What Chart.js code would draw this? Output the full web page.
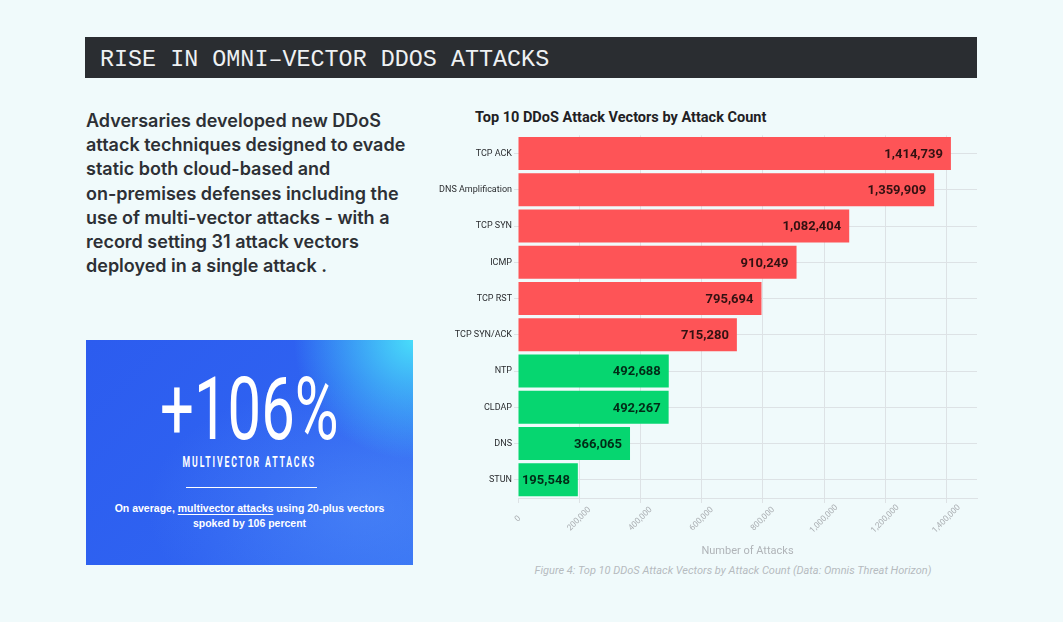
<!DOCTYPE html>
<html>
<head>
<meta charset="utf-8">
<script src="https://cdn.jsdelivr.net/npm/chart.js@4"></script>
<style>
  body { margin: 0; width: 1063px; height: 622px; background: #f0fafb; position: relative; overflow: hidden; font-family: Roboto, sans-serif; }
  .header { position: absolute; left: 85px; top: 37px; width: 892px; height: 41px; background: #2a2d31; }
  .header span { position: absolute; left: 15px; top: 10px; font-family: 'Liberation Mono', monospace; font-size: 23.4px; color: #eef1f3; white-space: nowrap; }
  .intro { position: absolute; left: 86px; top: 109px; font-family: Inter, sans-serif; font-weight: 600; font-size: 18px; line-height: 24.2px; color: #2d3035; white-space: nowrap; }
  .statbox { position: absolute; left: 86px; top: 340px; width: 327px; height: 225px; color: #fff;
    background:
      radial-gradient(circle at 100% 0%, #48dcfa 0%, rgba(72,220,250,0) 30%),
      radial-gradient(ellipse at 85% 75%, rgba(90,150,250,0.45), rgba(90,150,250,0) 55%),
      linear-gradient(135deg, #2c5cef 0%, #2f63f1 60%, #3470f3 100%); }
  .big { position: absolute; left: 0; width: 327px; top: 19px; text-align: center; font-weight: 400; font-size: 88px; line-height: 100px; transform: scaleX(0.68); transform-origin: 163px 0; white-space: nowrap; }
  .sub { position: absolute; left: 0; width: 327px; top: 114px; text-align: center; font-weight: 700; font-size: 14px; letter-spacing: 3px; transform: scaleX(0.62); transform-origin: 163px 0; white-space: nowrap; }
  .rule { position: absolute; left: 100px; top: 147px; width: 131px; height: 1px; background: #fff; }
  .note { position: absolute; left: 0; width: 327px; top: 161px; text-align: center; font-family: 'Liberation Sans', Arial, sans-serif; font-weight: 700; font-size: 10.5px; line-height: 15px; }
  .note u { text-underline-offset: 2px; }
  .chart-title { position: absolute; left: 475px; top: 109px; font-weight: 700; font-size: 14.5px; line-height: 17px; color: #1f2124; white-space: nowrap; }
  .chart-box { position: absolute; left: 430px; top: 128px; width: 560px; height: 434px; }
  .caption { position: absolute; left: 483px; width: 500px; top: 564px; text-align: center; font-style: italic; font-size: 11px; line-height: 14px; color: #b6bbbf; white-space: nowrap; }
</style>
</head>
<body>
<div class="header"><span>RISE IN OMNI–VECTOR DDOS ATTACKS</span></div>

<div class="intro">Adversaries developed new DDoS<br>attack techniques designed to evade<br>static both cloud-based and<br>on-premises defenses including the<br>use of multi-vector attacks - with a<br>record setting 31 attack vectors<br>deployed in a single attack .</div>

<div class="statbox">
  <div class="big">+106%</div>
  <div class="sub">MULTIVECTOR ATTACKS</div>
  <div class="rule"></div>
  <div class="note">On average, <u>multivector attacks</u> using 20-plus vectors<br>spoked by 106 percent</div>
</div>

<div class="chart-title">Top 10 DDoS Attack Vectors by Attack Count</div>
<div class="chart-box"><canvas id="vectorChart"></canvas></div>
<div class="caption">Figure 4: Top 10 DDoS Attack Vectors by Attack Count (Data: Omnis Threat Horizon)</div>

<script>
// --- Data ---
const vectorLabels = ['TCP ACK', 'DNS Amplification', 'TCP SYN', 'ICMP', 'TCP RST', 'TCP SYN/ACK', 'NTP', 'CLDAP', 'DNS', 'STUN'];
const attackCounts = [1414739, 1359909, 1082404, 910249, 795694, 715280, 492688, 492267, 366065, 195548];
const xTickValues = [0, 200000, 400000, 600000, 800000, 1000000, 1200000, 1400000];
const xAxisMax = 1500000;
const redBarCount = 6;

// --- Styles ---
const RED = '#fe5457';
const GREEN = '#06d670';
const GRID = '#dde2e5';

function formatNumber(n) {
    return n.toLocaleString('en-US');
}

// value labels drawn inside the end of each bar
const barValueLabels = {
    id: 'barValueLabels',
    afterDatasetsDraw(chart) {
        let ctx = chart.ctx;
        let meta = chart.getDatasetMeta(0);
        ctx.save();
        ctx.font = 'bold 13px Roboto';
        ctx.fillStyle = 'rgba(0, 0, 0, 0.8)';
        ctx.textAlign = 'right';
        ctx.textBaseline = 'middle';
        meta.data.forEach((bar, i) => {
            ctx.fillText(formatNumber(attackCounts[i]), bar.x - 8, bar.y + 1);
        });
        ctx.restore();
    }
};

// x tick labels rotated 45deg and centred under their tick
const xTickLabels = {
    id: 'xTickLabels',
    afterDraw(chart) {
        let ctx = chart.ctx;
        let xs = chart.scales.x;
        ctx.save();
        ctx.font = '8.3px Roboto';
        ctx.fillStyle = '#a9adb1';
        ctx.textAlign = 'center';
        ctx.textBaseline = 'middle';
        xTickValues.forEach(v => {
            ctx.save();
            ctx.translate(xs.getPixelForValue(v), xs.top + 21);
            ctx.rotate(-Math.PI / 4);
            ctx.fillText(formatNumber(v), 0, 0);
            ctx.restore();
        });
        ctx.restore();
    }
};

Chart.defaults.font.family = 'Roboto';

new Chart(document.getElementById('vectorChart').getContext('2d'), {
    type: 'bar',
    data: {
        labels: vectorLabels,
        datasets: [{
            data: attackCounts,
            backgroundColor: attackCounts.map((v, i) => i < redBarCount ? RED : GREEN),
            barPercentage: 0.91,
            categoryPercentage: 1
        }]
    },
    options: {
        indexAxis: 'y',
        responsive: true,
        maintainAspectRatio: false,
        animation: false,
        layout: { padding: { top: 7, right: 13, left: 0, bottom: 0 } },
        plugins: {
            legend: { display: false },
            tooltip: { enabled: false }
        },
        scales: {
            x: {
                min: 0,
                max: xAxisMax,
                afterBuildTicks: axis => { axis.ticks = xTickValues.map(v => ({ value: v })); },
                afterFit: axis => { axis.height = 64; },
                grid: {
                    color: ctx => ctx.tick && ctx.tick.value === 0 ? 'rgba(0,0,0,0)' : GRID,
                    tickColor: GRID,
                    tickLength: 5
                },
                border: { display: true, color: GRID },
                ticks: { display: false },
                title: {
                    display: true,
                    text: 'Number of Attacks',
                    color: '#b0b4b8',
                    font: { size: 11 },
                    padding: { top: 4, bottom: 4 }
                }
            },
            y: {
                afterFit: axis => { axis.width = 88; },
                grid: { offset: false, color: GRID, tickColor: GRID, tickLength: 4 },
                border: { display: false },
                ticks: { color: '#2b2d30', font: { size: 9 }, padding: 2 }
            }
        }
    },
    plugins: [barValueLabels, xTickLabels]
});
</script>
</body>
</html>
